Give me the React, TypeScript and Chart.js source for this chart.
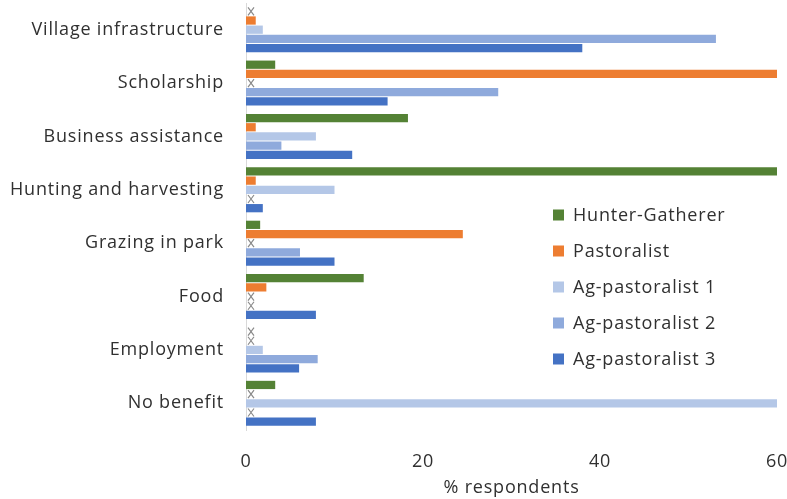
import React, { useEffect, useRef } from "react";
import { Chart, registerables } from "chart.js";

Chart.register(...registerables);

const categories = [
  "Village infrastructure",
  "Scholarship",
  "Business assistance",
  "Hunting and harvesting",
  "Grazing in park",
  "Food",
  "Employment",
  "No benefit",
];

const hunterGatherer = [0, 3.3, 18.3, 60, 1.6, 13.3, 0, 3.3];
const pastoralist = [1.1, 60, 1.1, 1.1, 24.5, 2.3, 0, 0];
const agPastoralist1 = [1.9, 0, 7.9, 10.0, 0, 0, 1.9, 60];
const agPastoralist2 = [53.1, 28.5, 4.0, 0, 6.1, 0, 8.1, 0];
const agPastoralist3 = [38.0, 16.0, 12.0, 1.9, 10.0, 7.9, 6.0, 7.9];

const seriesNames = ["Hunter-Gatherer", "Pastoralist", "Ag-pastoralist 1", "Ag-pastoralist 2", "Ag-pastoralist 3"];
const seriesColors = ["#548235", "#ED7D31", "#B4C7E7", "#8FAADC", "#4472C4"];
const xTicks = [0, 20, 40, 60];

const FONT = "'Open Sans', sans-serif";
const TEXT = "#303030";
const SPACING = "0.8px";

const spacingPlugin = {
  id: "spacing",
  beforeDraw(chart: any) {
    try {
      chart.ctx.letterSpacing = SPACING;
    } catch (e) {}
  },
};

const zeroMarkers = {
  id: "zeroMarkers",
  afterDatasetsDraw(chart: any) {
    const ctx = chart.ctx;
    const xs = chart.scales.x;
    const x0 = xs.getPixelForValue(0);
    ctx.save();
    ctx.strokeStyle = "#8a8a8a";
    ctx.lineWidth = 1.2;
    chart.data.datasets.forEach((ds: any, di: number) => {
      const meta = chart.getDatasetMeta(di);
      ds.data.forEach((v: number, i: number) => {
        if (v === 0) {
          const el = meta.data[i];
          const y = el.y;
          ctx.beginPath();
          ctx.moveTo(x0 + 2, y - 4);
          ctx.lineTo(x0 + 8, y + 4);
          ctx.moveTo(x0 + 8, y - 4);
          ctx.lineTo(x0 + 2, y + 4);
          ctx.stroke();
        }
      });
    });
    ctx.restore();
  },
};

const customLegend = {
  id: "customLegend",
  afterDraw(chart: any) {
    const ctx = chart.ctx;
    const area = chart.chartArea;
    const left = area.left + 307;
    const top = area.top + 212;
    const step = 36;
    ctx.save();
    ctx.letterSpacing = SPACING;
    ctx.font = `18px ${FONT}`;
    ctx.textBaseline = "middle";
    ctx.textAlign = "left";
    chart.data.datasets.forEach((ds: any, i: number) => {
      const y = top + i * step;
      ctx.fillStyle = ds.backgroundColor;
      ctx.fillRect(left, y - 5.5, 11, 11);
      ctx.fillStyle = TEXT;
      ctx.fillText(ds.label, left + 20, y + 1);
    });
    ctx.restore();
  },
};

export default function App() {
  const ref = useRef<HTMLCanvasElement>(null);
  useEffect(() => {
    document.body.style.margin = "0";
    const seriesData = [hunterGatherer, pastoralist, agPastoralist1, agPastoralist2, agPastoralist3];
    const chart = new Chart(ref.current!, {
      type: "bar",
      data: {
        labels: categories,
        datasets: seriesNames.map((name, i) => ({
          label: name,
          data: seriesData[i],
          backgroundColor: seriesColors[i],
          borderWidth: 0,
          categoryPercentage: 0.86,
          barPercentage: 0.9,
        })),
      },
      options: {
        indexAxis: "y",
        responsive: false,
        animation: false,
        layout: { padding: { top: 3, right: 10, left: 0, bottom: 0 } },
        plugins: { legend: { display: false }, tooltip: { enabled: false } },
        scales: {
          x: {
            min: 0,
            max: 60,
            afterBuildTicks: (scale: any) => {
              scale.ticks = xTicks.map((v) => ({ value: v }));
            },
            grid: { display: false, drawTicks: false },
            border: { display: false },
            ticks: { color: TEXT, font: { family: FONT, size: 18 }, padding: 21 },
            title: {
              display: true,
              text: "% respondents",
              color: TEXT,
              font: { family: FONT, size: 18 },
              padding: { top: 0, bottom: 0 },
            },
            afterFit: (scale: any) => {
              scale.height = 69;
              scale.paddingLeft = 0;
              scale.paddingRight = 0;
            },
          },
          y: {
            grid: { display: false, drawTicks: false },
            border: { display: true, color: "#d9d9d9", width: 1 },
            ticks: { color: TEXT, font: { family: FONT, size: 18 }, padding: 22, autoSkip: false },
            afterFit: (scale: any) => {
              scale.width = 246;
              scale.paddingTop = 0;
              scale.paddingBottom = 0;
            },
          },
        },
      },
      plugins: [spacingPlugin, zeroMarkers, customLegend],
    });
    return () => chart.destroy();
  }, []);
  return <canvas ref={ref} width={787} height={499} style={{ display: "block" }} />;
}
